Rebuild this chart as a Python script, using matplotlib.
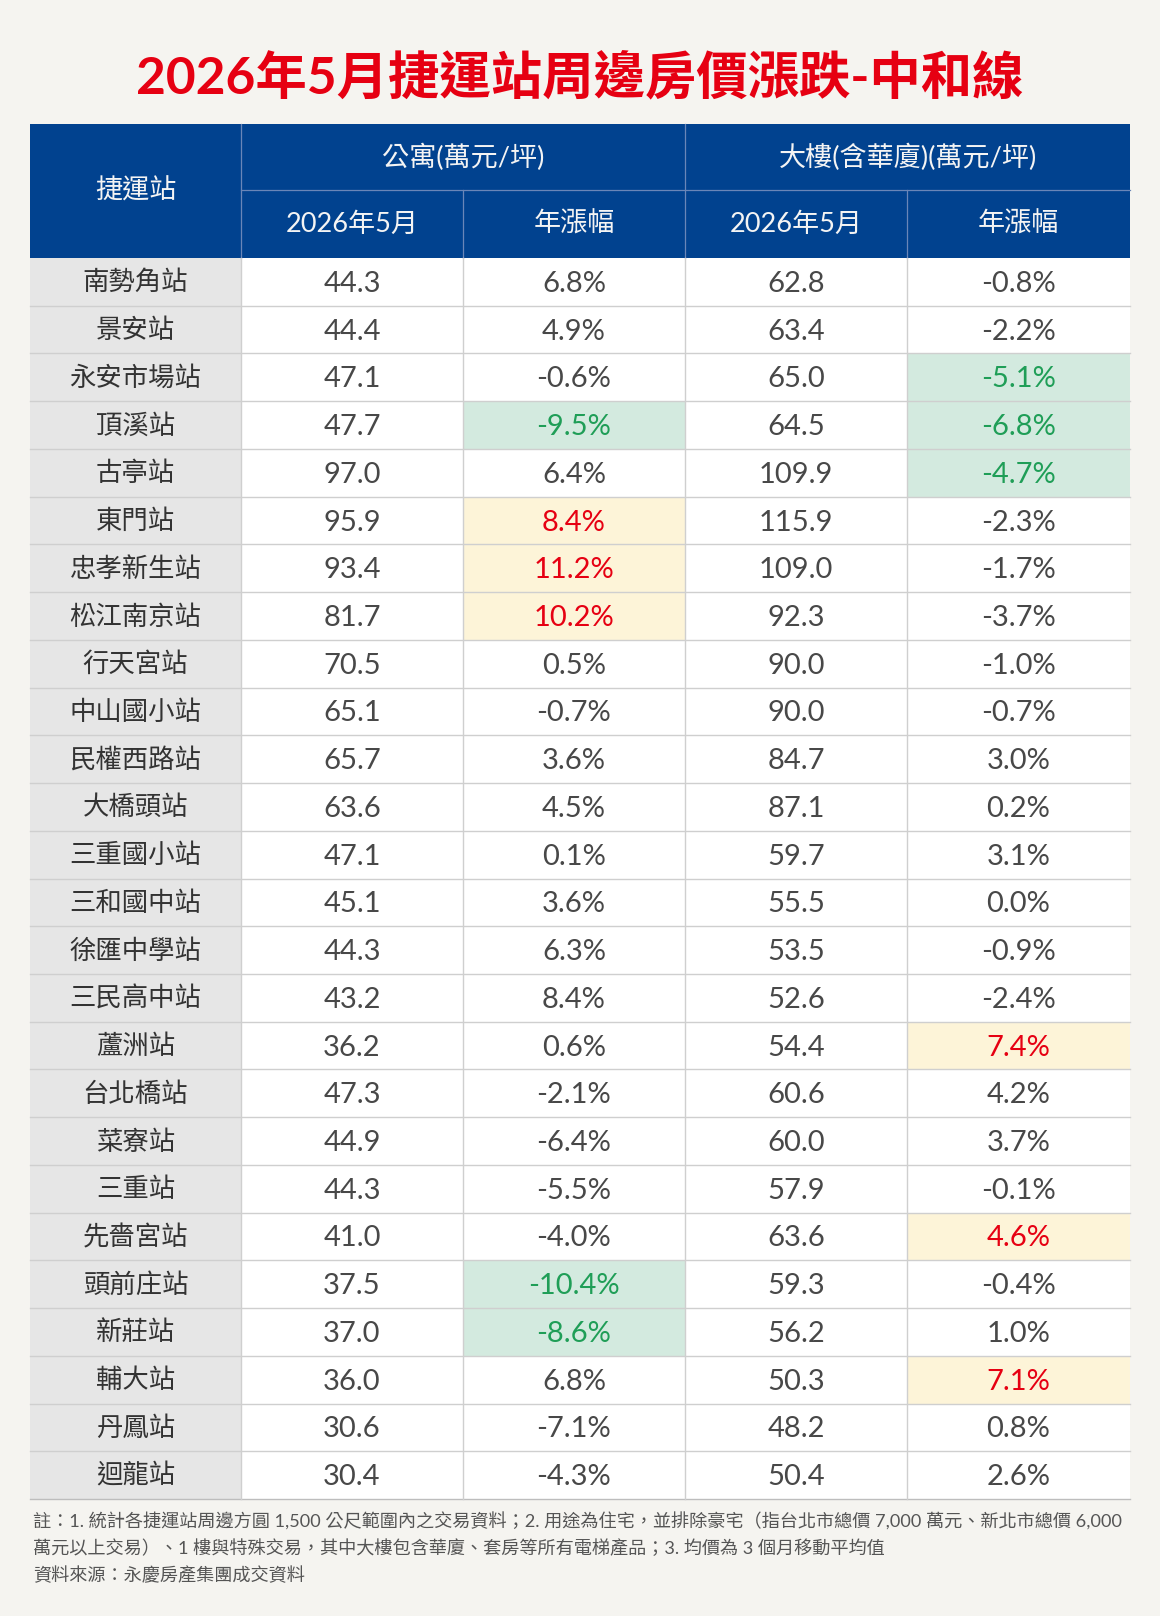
import matplotlib
matplotlib.use("Agg")
import matplotlib.pyplot as plt
from matplotlib.patches import Rectangle

# ---------------- data ----------------
title = "2026年5月捷運站周邊房價漲跌-中和線"
group_headers = ["公寓(萬元/坪)", "大樓(含華廈)(萬元/坪)"]
sub_headers = ["2026年5月", "年漲幅", "2026年5月", "年漲幅"]
first_header = "捷運站"

stations = ["南勢角站", "景安站", "永安市場站", "頂溪站", "古亭站", "東門站", "忠孝新生站",
            "松江南京站", "行天宮站", "中山國小站", "民權西路站", "大橋頭站", "三重國小站",
            "三和國中站", "徐匯中學站", "三民高中站", "蘆洲站", "台北橋站", "菜寮站", "三重站",
            "先嗇宮站", "頭前庄站", "新莊站", "輔大站", "丹鳳站", "迴龍站"]
apt_price = [44.3, 44.4, 47.1, 47.7, 97.0, 95.9, 93.4, 81.7, 70.5, 65.1, 65.7, 63.6, 47.1,
             45.1, 44.3, 43.2, 36.2, 47.3, 44.9, 44.3, 41.0, 37.5, 37.0, 36.0, 30.6, 30.4]
apt_change = [6.8, 4.9, -0.6, -9.5, 6.4, 8.4, 11.2, 10.2, 0.5, -0.7, 3.6, 4.5, 0.1,
              3.6, 6.3, 8.4, 0.6, -2.1, -6.4, -5.5, -4.0, -10.4, -8.6, 6.8, -7.1, -4.3]
bld_price = [62.8, 63.4, 65.0, 64.5, 109.9, 115.9, 109.0, 92.3, 90.0, 90.0, 84.7, 87.1, 59.7,
             55.5, 53.5, 52.6, 54.4, 60.6, 60.0, 57.9, 63.6, 59.3, 56.2, 50.3, 48.2, 50.4]
bld_change = [-0.8, -2.2, -5.1, -6.8, -4.7, -2.3, -1.7, -3.7, -1.0, -0.7, 3.0, 0.2, 3.1,
              0.0, -0.9, -2.4, 7.4, 4.2, 3.7, -0.1, 4.6, -0.4, 1.0, 7.1, 0.8, 2.6]
# highlighted cells: (station, column) column 1 = apartment change, 3 = building change
highlight_down = [("永安市場站", 3), ("頂溪站", 1), ("頂溪站", 3), ("古亭站", 3),
                  ("頭前庄站", 1), ("新莊站", 1)]
highlight_up = [("東門站", 1), ("忠孝新生站", 1), ("松江南京站", 1), ("蘆洲站", 3),
                ("先嗇宮站", 3), ("輔大站", 3)]

footnotes = [
    "註：1. 統計各捷運站周邊方圓 1,500 公尺範圍內之交易資料；2. 用途為住宅，並排除豪宅（指台北市總價 7,000 萬元、新北市總價 6,000",
    "萬元以上交易）、1 樓與特殊交易，其中大樓包含華廈、套房等所有電梯產品；3. 均價為 3 個月移動平均值",
    "資料來源：永慶房產集團成交資料",
]

# ---------------- style ----------------
BG = "#f5f4f0"
HEAD = "#01428f"
HEAD_LINE = "#6a86b8"
FIRST_COL = "#e6e6e6"
GRID = "#cfcfcf"
GREEN_BG, GREEN_TX = "#d3eadf", "#1f9e57"
YELLOW_BG, YELLOW_TX = "#fdf4d8", "#e60012"
CJK = ["Noto Sans CJK TC", "DejaVu Sans"]
MIX = ["Lato", "Noto Sans CJK TC", "DejaVu Sans"]

W, H = 1160, 1616
fig = plt.figure(figsize=(W / 100, H / 100), dpi=100, facecolor=BG)
ax = fig.add_axes([0, 0, 1, 1])
ax.set_xlim(0, W)
ax.set_ylim(H, 0)
ax.axis("off")

col_x = [30, 241, 463, 685, 907, 1130]
y_head_top, y_head_mid, y_head_bot = 124, 190, 258
y_body_bot = 1499
n = len(stations)
row_h = (y_body_bot - y_head_bot) / n

# title
ax.text(W / 2, 79, title, ha="center", va="center", fontsize=37, color="#e60012",
        family=MIX, fontweight="bold")

# header background
ax.add_patch(Rectangle((col_x[0], y_head_top), col_x[-1] - col_x[0], y_head_bot - y_head_top,
                       facecolor=HEAD, edgecolor="none"))
# header lines
ax.plot([col_x[1], col_x[-1]], [y_head_mid, y_head_mid], color=HEAD_LINE, lw=0.9)
for xi in [col_x[1], col_x[3]]:
    ax.plot([xi, xi], [y_head_top, y_head_bot], color=HEAD_LINE, lw=0.9)
for xi in [col_x[2], col_x[4]]:
    ax.plot([xi, xi], [y_head_mid, y_head_bot], color=HEAD_LINE, lw=0.9)

hdr_kw = dict(ha="center", va="center", fontsize=19.5, color="#f4f4f4", family=MIX)
ax.text((col_x[0] + col_x[1]) / 2, (y_head_top + y_head_bot) / 2, first_header, **hdr_kw)
ax.text((col_x[1] + col_x[3]) / 2, (y_head_top + y_head_mid) / 2, group_headers[0], **hdr_kw)
ax.text((col_x[3] + col_x[5]) / 2, (y_head_top + y_head_mid) / 2, group_headers[1], **hdr_kw)
for j, s in enumerate(sub_headers):
    ax.text((col_x[j + 1] + col_x[j + 2]) / 2, (y_head_mid + y_head_bot) / 2, s, **hdr_kw)

# body
down_set = set(highlight_down)
up_set = set(highlight_up)
cols = [apt_price, apt_change, bld_price, bld_change]
for i, st in enumerate(stations):
    y0 = y_head_bot + i * row_h
    yc = y0 + row_h / 2
    ax.add_patch(Rectangle((col_x[0], y0), col_x[1] - col_x[0], row_h,
                           facecolor=FIRST_COL, edgecolor="none"))
    ax.add_patch(Rectangle((col_x[1], y0), col_x[-1] - col_x[1], row_h,
                           facecolor="white", edgecolor="none"))
    ax.text((col_x[0] + col_x[1]) / 2, yc + 1, st, ha="center", va="center",
            fontsize=19, color="#333333", family=CJK)
    for j, vals in enumerate(cols):
        v = vals[i]
        txt = f"{v:.1f}%" if j in (1, 3) else f"{v:.1f}"
        color = "#484848"
        if (st, j) in down_set:
            ax.add_patch(Rectangle((col_x[j + 1], y0), col_x[j + 2] - col_x[j + 1], row_h,
                                   facecolor=GREEN_BG, edgecolor="none"))
            color = GREEN_TX
        elif (st, j) in up_set:
            ax.add_patch(Rectangle((col_x[j + 1], y0), col_x[j + 2] - col_x[j + 1], row_h,
                                   facecolor=YELLOW_BG, edgecolor="none"))
            color = YELLOW_TX
        ax.text((col_x[j + 1] + col_x[j + 2]) / 2, yc + 2, txt, ha="center", va="center",
                fontsize=21, color=color, family=MIX, fontweight="normal")

# grid lines
for i in range(1, n + 1):
    y = y_head_bot + i * row_h
    ax.plot([col_x[0], col_x[-1]], [y, y], color=GRID if i < n else "#bdbdbd", lw=1.0)
for xi in col_x[1:-1]:
    ax.plot([xi, xi], [y_head_bot, y_body_bot], color=GRID, lw=1.0)

# footnotes
for k, line in enumerate(footnotes):
    ax.text(33, 1522 + k * 26.5, line, ha="left", va="center", fontsize=13.1,
            color="#555555", family=MIX)

fig.savefig("out.png", dpi=100, facecolor=BG)
